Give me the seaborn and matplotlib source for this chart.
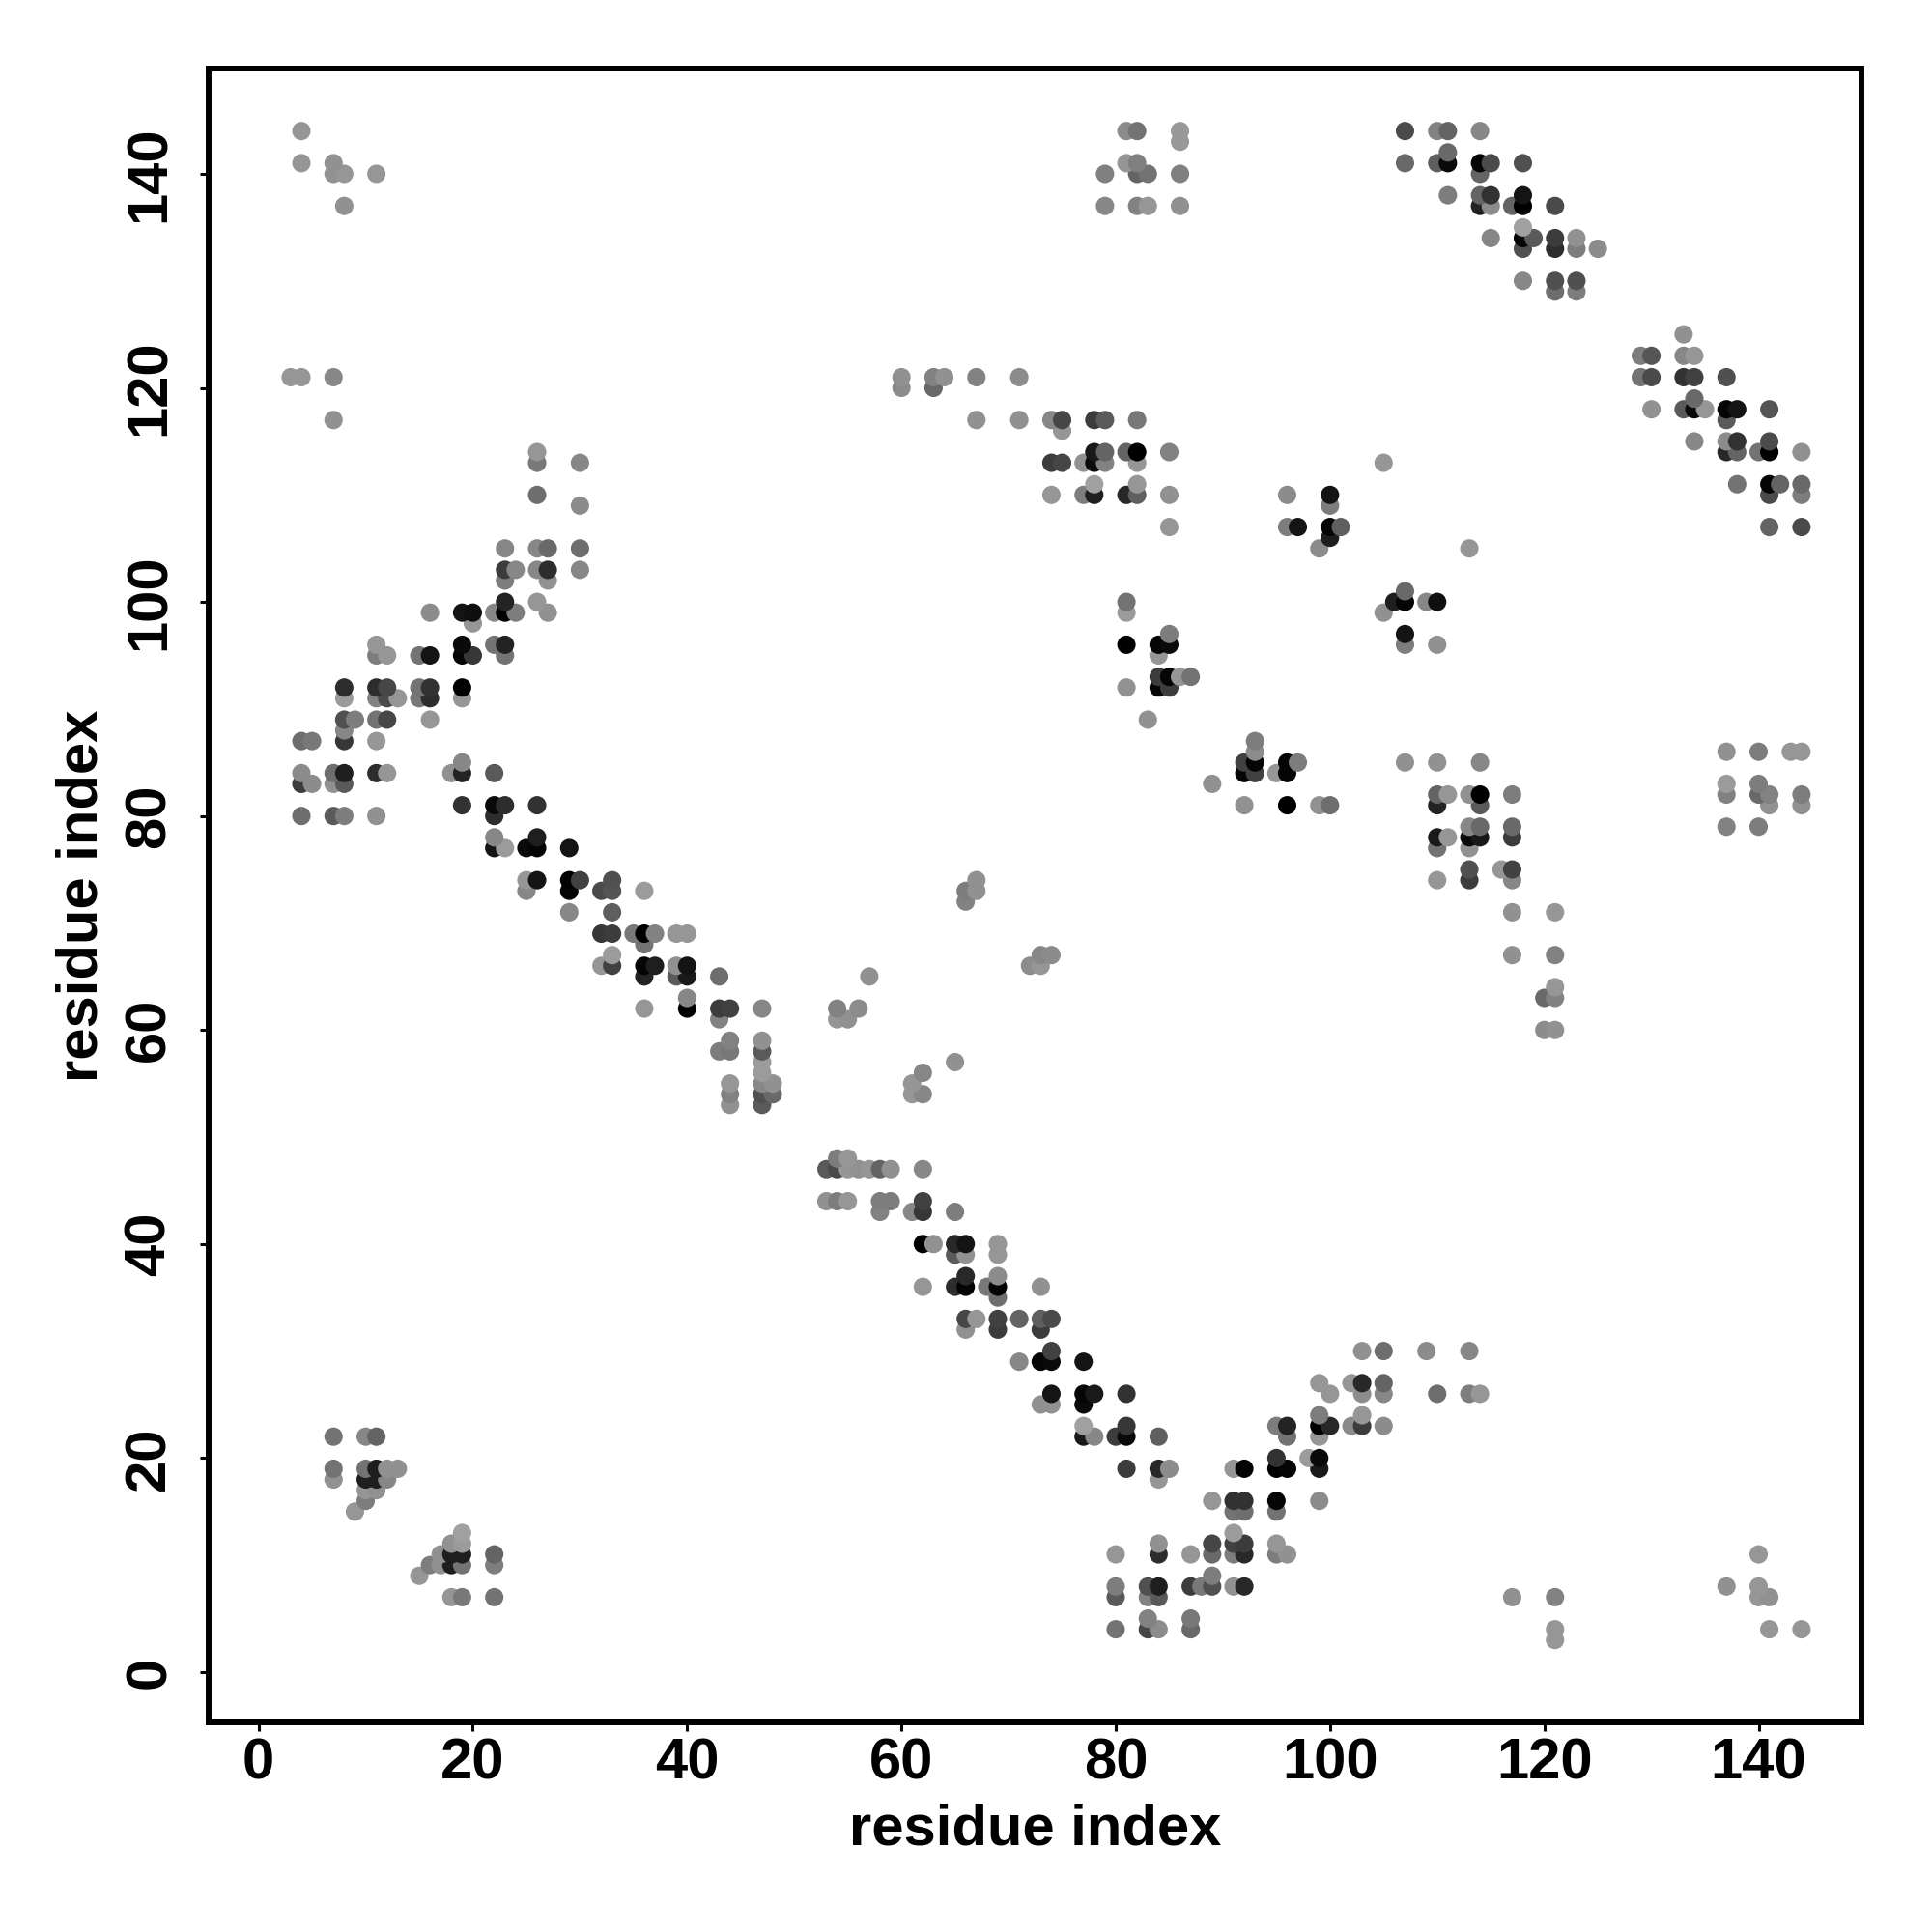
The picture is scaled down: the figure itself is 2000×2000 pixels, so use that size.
import matplotlib
matplotlib.use("Agg")
import matplotlib.pyplot as plt
import pandas as pd
import seaborn as sns

# contacts, bottom to top (later rows sit on top)
row_y = [3, 4, 5, 7, 8, 9, 10, 11, 12, 13,
         15, 16, 17, 18, 19, 20, 22, 23, 24, 25,
         26, 27, 29, 30, 32, 33, 35, 36, 37, 39,
         40, 43, 44, 47, 48, 53, 54, 55, 56, 57,
         58, 59, 60, 61, 62, 63, 64, 65, 66, 67,
         68, 69, 71, 72, 73, 74, 75, 77, 78, 79,
         80, 81, 82, 83, 84, 85, 86, 87, 88, 89,
         91, 92, 93, 95, 96, 97, 98, 99, 100, 101,
         102, 103, 105, 106, 107, 109, 110, 111, 113, 114,
         115, 116, 117, 118, 119, 120, 121, 123, 125, 129,
         130, 133, 134, 135, 137, 138, 140, 141, 142, 143, 144]

row_x = [
    [121],
    [80, 83, 84, 87, 121, 141, 144],
    [83, 87],
    [18, 19, 22, 80, 83, 84, 117, 121, 140, 141],
    [80, 83, 84, 87, 88, 89, 91, 92, 137, 140],
    [15, 89],
    [16, 17, 18, 19, 22],
    [17, 18, 19, 22, 80, 84, 87, 89, 91, 92, 95, 96, 140],
    [18, 19, 84, 89, 91, 92, 95],
    [19, 91],
    [9, 91, 92, 95],
    [10, 89, 91, 92, 95, 99],
    [10, 11],
    [7, 10, 11, 12, 84],
    [7, 10, 11, 12, 13, 81, 84, 85, 91, 92, 95, 96, 99],
    [95, 98, 99],
    [7, 10, 11, 77, 78, 80, 81, 84, 96, 99],
    [77, 81, 95, 96, 99, 100, 102, 103, 105],
    [99, 103],
    [73, 74, 77],
    [74, 77, 78, 81, 100, 103, 105, 110, 113, 114],
    [99, 102, 103, 105],
    [71, 73, 74, 77],
    [74, 103, 105, 109, 113],
    [66, 69, 73],
    [66, 67, 69, 71, 73, 74],
    [69],
    [62, 65, 66, 68, 69, 73],
    [66, 69],
    [65, 66, 69],
    [62, 63, 65, 66, 69],
    [58, 61, 62, 65],
    [53, 54, 55, 58, 59, 62],
    [53, 54, 55, 56, 57, 58, 59, 62],
    [54, 55],
    [44, 47],
    [44, 47, 48, 61, 62],
    [44, 47, 48, 61],
    [47, 62],
    [47, 65],
    [43, 44, 47],
    [44, 47],
    [120, 121],
    [43, 54, 55],
    [36, 40, 43, 44, 47, 54, 56],
    [40, 120, 121],
    [121],
    [36, 39, 40, 43, 57],
    [32, 33, 36, 37, 39, 40, 72, 73],
    [33, 73, 74, 117, 121],
    [36],
    [32, 33, 35, 36, 37, 39, 40],
    [29, 33, 117, 121],
    [66],
    [25, 29, 32, 33, 36, 66, 67],
    [25, 26, 29, 30, 33, 67, 110, 113, 117],
    [113, 116, 117],
    [22, 23, 25, 26, 29, 110, 113],
    [22, 26, 110, 111, 113, 114, 117],
    [113, 114, 117, 137, 140],
    [4, 7, 8, 11, 22],
    [19, 22, 23, 26, 92, 96, 99, 100, 110, 114, 141, 144],
    [110, 111, 113, 114, 117, 137, 140, 141, 144],
    [4, 5, 7, 8, 89, 137, 140],
    [4, 7, 8, 11, 12, 18, 19, 22, 92, 93, 95, 96],
    [19, 92, 93, 96, 97, 107, 110, 114],
    [93, 137, 140, 143, 144],
    [4, 5, 8, 11, 93],
    [8],
    [8, 9, 11, 12, 16, 83],
    [8, 11, 12, 13, 15, 16, 19],
    [8, 11, 12, 15, 16, 19, 81, 84, 85],
    [84, 85, 86, 87],
    [11, 12, 15, 16, 19, 20, 23, 84],
    [11, 19, 22, 23, 81, 84, 85, 107, 110],
    [85, 107],
    [20],
    [16, 19, 20, 22, 23, 24, 27, 81, 105],
    [23, 26, 81, 106, 107, 109, 110],
    [107],
    [23, 27],
    [23, 24, 26, 27, 30],
    [23, 26, 27, 30, 99, 113],
    [100],
    [85, 96, 97, 100, 101, 141, 144],
    [30, 100],
    [26, 74, 77, 78, 81, 82, 85, 96, 100, 141, 144],
    [78, 82, 138, 141, 142, 144],
    [26, 30, 74, 75, 77, 78, 79, 82, 105],
    [26, 78, 79, 81, 82, 85, 137, 138, 140, 141, 144],
    [134, 137, 138, 141],
    [75],
    [7, 67, 71, 74, 75, 78, 79, 82, 137],
    [130, 133, 134, 135, 137, 138, 141],
    [134],
    [60, 63],
    [3, 4, 7, 60, 63, 64, 67, 71, 129, 130, 133, 134, 137],
    [129, 130, 133, 134],
    [133],
    [121, 123],
    [118, 121, 123],
    [118, 121, 123, 125],
    [115, 118, 119, 121, 123],
    [118],
    [8, 79, 82, 83, 86, 114, 115, 117, 118, 121],
    [111, 114, 115, 118],
    [7, 8, 11, 79, 82, 83, 86, 114],
    [4, 7, 81, 82, 107, 110, 111, 114, 115, 118],
    [111],
    [86],
    [4, 81, 82, 86, 107, 110, 111, 114],
]

# grey level of each contact, 0 black to 255 white
row_grey = [
    [150],
    [115, 70, 140, 105, 150, 150, 150],
    [130, 120],
    [150, 120, 115, 90, 130, 90, 145, 130, 150, 145],
    [125, 80, 30, 60, 120, 80, 145, 40, 145, 150],
    [150, 125],
    [125, 145, 30, 115, 125],
    [145, 30, 30, 100, 150, 45, 150, 105, 125, 40, 125, 145, 150],
    [145, 155, 145, 70, 65, 60, 150],
    [160, 155],
    [150, 115, 110, 115],
    [125, 150, 50, 50, 5, 140],
    [150, 145],
    [145, 30, 30, 135, 150],
    [115, 115, 30, 145, 145, 60, 40, 140, 150, 5, 0, 5, 25],
    [50, 155, 10],
    [115, 135, 100, 25, 135, 60, 10, 95, 115, 150],
    [160, 55, 125, 35, 0, 40, 140, 60, 140],
    [125, 150],
    [145, 145, 10],
    [20, 5, 25, 50, 150, 140, 135, 110, 125, 150],
    [150, 150, 40, 100],
    [135, 5, 10, 20],
    [65, 145, 110, 140, 135],
    [145, 60, 60],
    [70, 150, 65, 100, 95, 75],
    [110],
    [150, 45, 5, 120, 5, 145],
    [40, 140],
    [90, 145, 150],
    [0, 145, 40, 20, 150],
    [130, 135, 55, 125],
    [145, 125, 150, 125, 125, 65],
    [90, 75, 150, 145, 150, 100, 145, 135],
    [125, 150],
    [145, 90],
    [130, 80, 105, 150, 135],
    [150, 135, 145, 150],
    [155, 135],
    [155, 145],
    [125, 120, 90],
    [130, 145],
    [140, 145],
    [130, 150, 145],
    [150, 0, 60, 65, 135, 130, 140],
    [135, 105, 130],
    [150],
    [35, 90, 25, 110, 145],
    [150, 65, 5, 30, 145, 20, 140, 150],
    [155, 135, 140, 145, 130],
    [115],
    [55, 60, 120, 0, 130, 150, 150],
    [135, 95, 145, 150],
    [130],
    [135, 5, 75, 85, 155, 125, 145],
    [150, 20, 0, 65, 80, 145, 150, 60, 135],
    [80, 150, 65],
    [20, 155, 10, 5, 20, 115, 145],
    [135, 30, 25, 150, 10, 25, 60],
    [135, 105, 105, 130, 125],
    [110, 90, 125, 145, 45],
    [50, 10, 45, 50, 145, 0, 145, 110, 35, 90, 145, 145],
    [100, 150, 145, 0, 125, 130, 105, 130, 125],
    [60, 140, 145, 90, 145, 155, 125],
    [140, 110, 30, 45, 150, 145, 35, 90, 5, 65, 150, 5],
    [135, 65, 5, 5, 125, 145, 145, 135],
    [140, 145, 125, 150, 150],
    [110, 120, 55, 150, 125],
    [135],
    [80, 125, 115, 70, 150, 145],
    [155, 130, 75, 150, 120, 45, 150],
    [45, 45, 70, 115, 50, 0, 145, 5, 60],
    [60, 5, 150, 115],
    [125, 150, 115, 20, 5, 55, 115, 150],
    [150, 10, 115, 35, 0, 5, 10, 125, 145],
    [125, 20],
    [150],
    [140, 20, 15, 135, 0, 125, 145, 155, 145],
    [35, 150, 115, 30, 5, 135, 15],
    [105],
    [125, 145],
    [60, 135, 135, 45, 135],
    [135, 135, 105, 110, 140, 150],
    [30],
    [150, 125, 20, 5, 95, 100, 75],
    [140, 125],
    [110, 150, 125, 30, 40, 95, 145, 140, 20, 75, 125],
    [160, 150, 115, 5, 100, 105],
    [120, 135, 60, 70, 145, 10, 130, 150, 150],
    [150, 25, 100, 100, 0, 130, 40, 100, 115, 0, 145],
    [135, 140, 50, 75],
    [150],
    [145, 145, 145, 135, 70, 60, 90, 120, 90],
    [145, 90, 10, 150, 5, 20, 85],
    [105],
    [140, 105],
    [150, 150, 135, 145, 130, 145, 130, 140, 115, 75, 50, 65, 80],
    [125, 85, 135, 150],
    [145],
    [110, 125],
    [135, 80, 80],
    [80, 45, 125, 140],
    [135, 5, 90, 60, 145],
    [160],
    [145, 135, 130, 150, 145, 35, 140, 100, 0, 75],
    [125, 100, 50, 20],
    [145, 150, 150, 128, 100, 115, 128, 100],
    [150, 145, 150, 128, 105, 95, 10, 5, 75, 80],
    [105],
    [153],
    [150, 140, 115, 153, 75, 130, 100, 135],
]

tick_values = [0, 20, 40, 60, 80, 100, 120, 140]

contacts = pd.DataFrame({
    "x": [x for xs in row_x for x in xs],
    "y": [y for y, xs in zip(row_y, row_x) for _ in xs],
    "grey": [g for gs in row_grey for g in gs],
})
grey_palette = {g: str(g / 255) for g in contacts["grey"].unique()}

sns.set_style("white")
plt.rcParams["font.family"] = ["Liberation Sans", "DejaVu Sans"]
plt.rcParams["text.color"] = "black"
plt.rcParams["axes.labelcolor"] = "black"
plt.rcParams["xtick.labelcolor"] = "black"
plt.rcParams["ytick.labelcolor"] = "black"

fig = plt.figure(figsize=(10, 10), dpi=200)
ax = fig.add_axes([0.10775, 0.1085, 0.85575, 0.8558])

sns.scatterplot(data=contacts, x="x", y="y", hue="grey", palette=grey_palette,
                s=47, linewidth=0, alpha=1, legend=False, ax=ax)

ax.set_xlim(-4.7, 149.6)
ax.set_ylim(-4.7, 149.8)
ax.set_xticks(tick_values)
ax.set_yticks(tick_values)
ax.set_xticklabels(tick_values, fontsize=21.5, fontweight="bold")
ax.set_yticklabels(tick_values, fontsize=21.5, fontweight="bold", rotation=90,
                   ha="center", va="baseline", rotation_mode="anchor")
ax.tick_params(axis="x", length=3.2, width=1.1, color="black", pad=2.2, bottom=True)
ax.tick_params(axis="y", length=3.2, width=1.1, color="black", pad=12.9, left=True)
ax.set_xlabel("residue index", fontsize=21.5, fontweight="bold", labelpad=5)
ax.set_ylabel("residue index", fontsize=21.5, fontweight="bold", labelpad=5.5)
for spine in ax.spines.values():
    spine.set_linewidth(2.15)
    spine.set_color("black")

fig.savefig("out.png", dpi=200, facecolor="white")
